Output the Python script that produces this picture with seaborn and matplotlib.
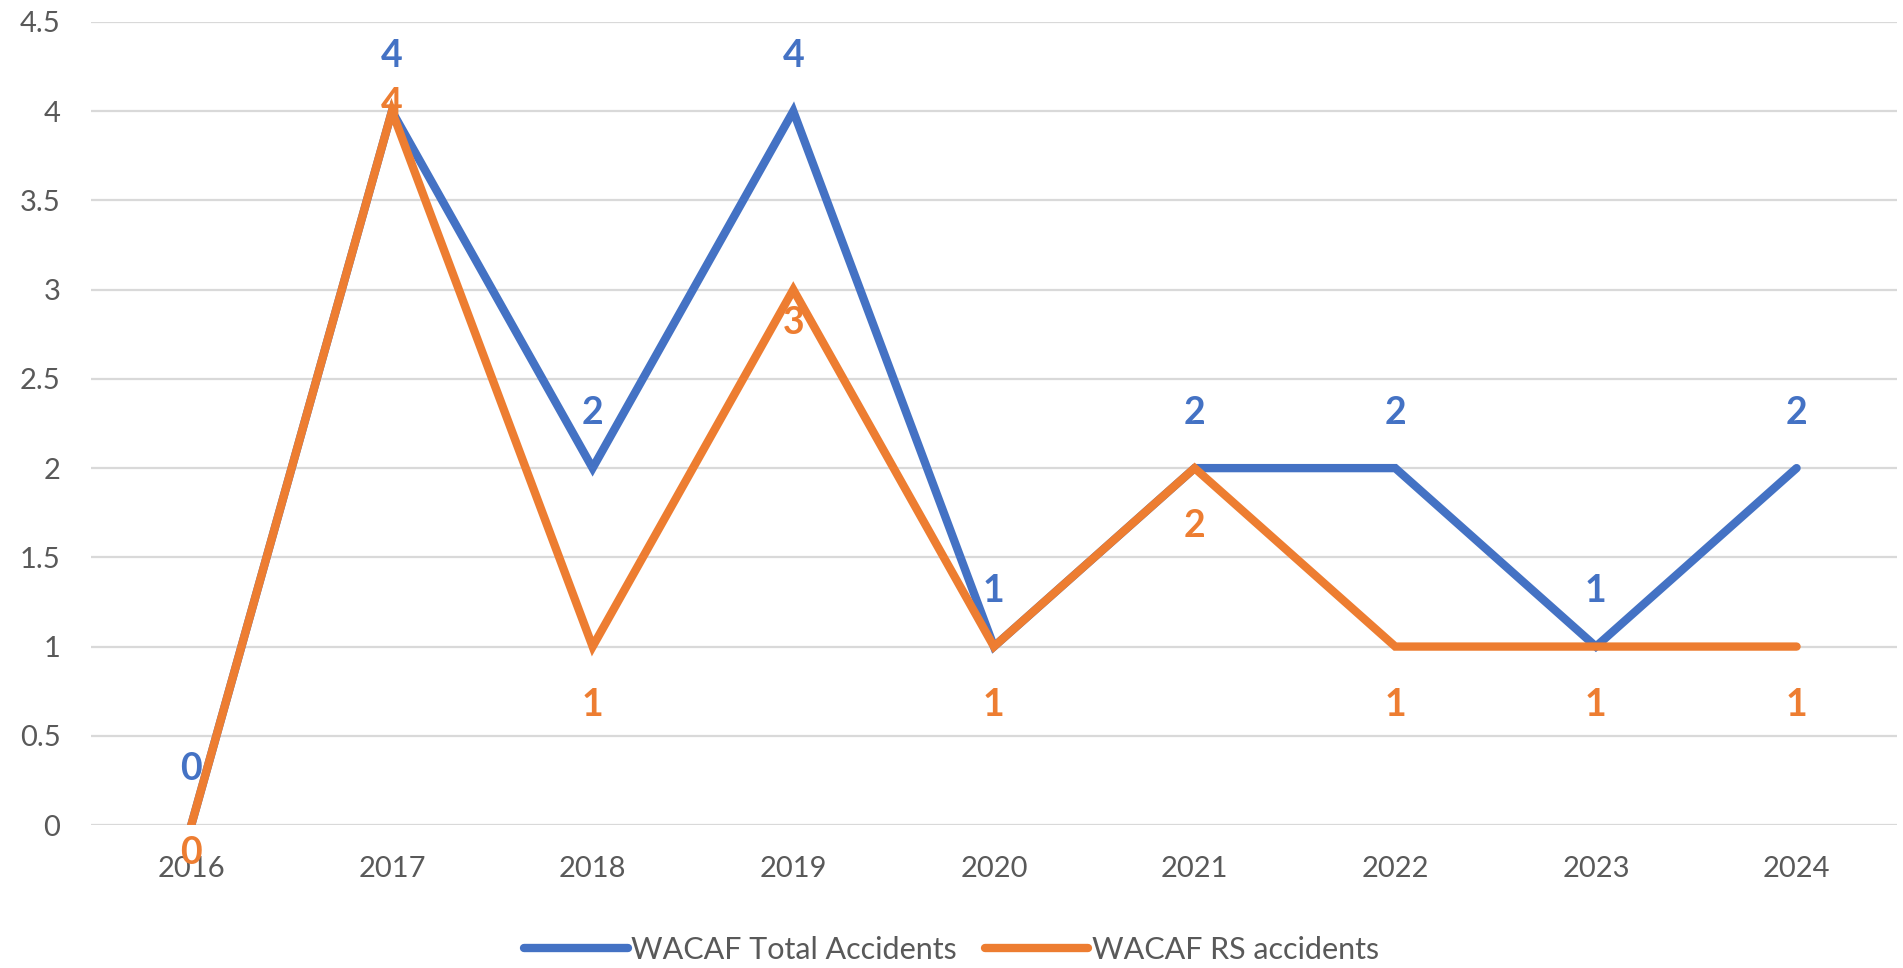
import numpy as np
import pandas as pd
import matplotlib
matplotlib.use("Agg")
import matplotlib.pyplot as plt
import seaborn as sns

# chart data
years = ["2016", "2017", "2018", "2019", "2020", "2021", "2022", "2023", "2024"]
total_accidents = [0, 4, 2, 4, 1, 2, 2, 1, 2]
rs_accidents = [0, 4, 1, 3, 1, 2, 1, 1, 1]
series_names = ["WACAF Total Accidents", "WACAF RS accidents"]

# label offsets (points) - the orange labels were nudged by hand in the original
total_label_dy = [40, 40, 40, 40, 40, 40, 40, 40, 40]
rs_label_dy = [-20, 5, -42, -24, -42, -42, -42, -42, -42]

blue = "#4472C4"
orange = "#ED7D31"
grey_txt = "#595959"

sns.set_theme(style="white")
plt.rcParams['font.family'] = ['Lato', 'DejaVu Sans']

df = pd.DataFrame({
    'Year': years * 2,
    'Accidents': total_accidents + rs_accidents,
    'Series': [series_names[0]] * len(years) + [series_names[1]] * len(years),
})
df['x'] = list(range(len(years))) * 2

fig = plt.figure(figsize=(19.03, 9.68), dpi=100)
ax = fig.add_axes([0.0478, 0.1477, 0.949, 0.8296])

sns.lineplot(data=df, x='x', y='Accidents', hue='Series', palette=[blue, orange],
             linewidth=6, ax=ax, solid_capstyle='round', solid_joinstyle='miter')

ax.set_xlim(-0.5, len(years) - 0.5)
ax.set_ylim(0, 4.5)
ax.set_yticks(np.arange(0, 4.51, 0.5))
ax.set_yticklabels([f"{v:g}" for v in np.arange(0, 4.51, 0.5)])
ax.set_xticks(range(len(years)))
ax.set_xticklabels(years)
ax.set_xlabel('')
ax.set_ylabel('')
ax.tick_params(axis='both', length=0, labelsize=21, colors=grey_txt)
ax.tick_params(axis='y', pad=22)
ax.tick_params(axis='x', pad=22)
ax.yaxis.grid(True, color='#D9D9D9', linewidth=1.6)
ax.set_axisbelow(True)
for s in ax.spines.values():
    s.set_visible(False)

# data labels
for i, v in enumerate(total_accidents):
    ax.annotate(str(v), (i, v), xytext=(0, total_label_dy[i]), textcoords='offset points',
                ha='center', va='center', fontsize=27, fontweight='bold', color=blue)
for i, v in enumerate(rs_accidents):
    ax.annotate(str(v), (i, v), xytext=(0, rs_label_dy[i]), textcoords='offset points',
                ha='center', va='center', fontsize=27, fontweight='bold', color=orange)

handles, labels = ax.get_legend_handles_labels()
ax.legend_.remove()
for h in handles:
    h.set_solid_capstyle('round')
leg = fig.legend(handles, labels, loc='center', bbox_to_anchor=(0.5, 0.019), ncol=2,
                 frameon=False, fontsize=22, handlelength=3.4, handletextpad=0.1,
                 columnspacing=0.9)
for t in leg.get_texts():
    t.set_color(grey_txt)

fig.savefig("out.png", dpi=100, facecolor='white')
